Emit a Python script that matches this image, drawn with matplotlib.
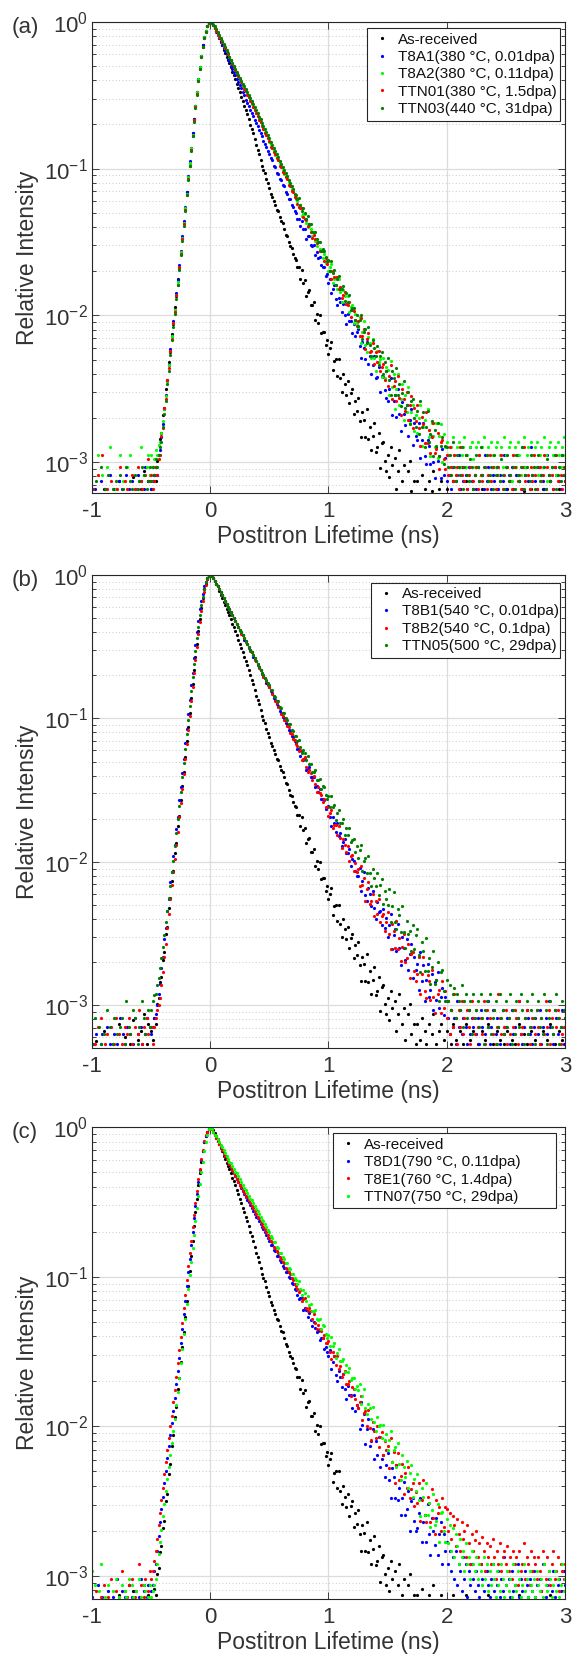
import numpy as np
import matplotlib
matplotlib.use("Agg")
import matplotlib.pyplot as plt
from matplotlib.ticker import LogLocator, NullFormatter, FixedLocator

plt.rcParams['font.family'] = ['Liberation Sans', 'DejaVu Sans']
plt.rcParams['mathtext.fontset'] = 'custom'
plt.rcParams['mathtext.rm'] = 'Liberation Sans'
plt.rcParams['axes.unicode_minus'] = False

# channel positions (ns), one value every 0.0125 ns from -1 to 3
t_ns = np.linspace(-1.0, 3.0, 321)

# log10 of relative intensity, None = no counts shown
# one line = 0.25 ns
as_received = [
    None, None, None, -3.25, None, None, None, None, -3.18, None, None, None, None, None, -3.27, None, None, None, -3.13, None,
    None, None, -3.22, None, None, None, -3.27, None, -3.10, None, None, -3.24, None, -3.18, None, -3.06, None, -3.27, -3.13, None,
    -3.18, -3.24, -3.09, -3.13, -2.99, -2.95, -2.84, -2.80, -2.68, -2.63, -2.50, -2.45, -2.32, -2.25, -2.13, -2.06, -1.94, -1.87, -1.75, -1.68,
    -1.57, -1.47, -1.37, -1.27, -1.16, -1.06, -0.96, -0.86, -0.76, -0.66, -0.57, -0.48, -0.39, -0.31, -0.23, -0.16, -0.10, -0.06, -0.03, -0.01,
    0.00, -0.01, -0.02, -0.04, -0.06, -0.08, -0.11, -0.14, -0.16, -0.19, -0.21, -0.24, -0.26, -0.28, -0.31, -0.34, -0.36, -0.39, -0.42, -0.45,
    -0.48, -0.51, -0.54, -0.57, -0.60, -0.63, -0.66, -0.70, -0.73, -0.76, -0.80, -0.84, -0.87, -0.90, -0.94, -0.98, -1.01, -1.03, -1.07, -1.10,
    -1.13, -1.17, -1.19, -1.22, -1.25, -1.28, -1.29, -1.33, -1.36, -1.37, -1.41, -1.45, -1.46, -1.50, -1.53, -1.54, -1.58, -1.61, -1.62, -1.67,
    -1.67, -1.75, -1.69, -1.78, -1.76, -1.87, -1.84, -1.83, -1.93, -1.93, -1.91, -2.03, -1.99, -2.05, -2.00, -2.12, -2.11, -2.11, -2.20, -2.17,
    -2.26, -2.22, -2.18, -2.37, -2.31, -2.30, -2.41, -2.30, -2.43, -2.52, -2.40, -2.47, -2.54, -2.45, -2.60, -2.53, -2.50, -2.67, -2.58, -2.65,
    -2.56, -2.72, -2.83, -2.66, -2.71, -2.83, -2.64, -2.84, -2.76, -2.92, -2.82, -2.73, -2.93, -2.90, -2.80, -3.04, -2.87, -2.86, -2.99, -3.06,
    -2.95, -3.10, -2.90, -3.02, None, -2.97, -3.18, -3.06, -2.92, None, -3.13, -3.02, -3.24, None, -3.06, -2.99, -3.20, None, -3.13, -3.27,
    -3.13, None, -3.24, -3.09, None, -3.18, -3.27, None, -3.13, None, -3.20, -3.06, None, -3.27, None, -3.18, -3.13, None, -3.24, None,
    -3.18, None, None, -3.27, -3.13, None, -3.24, None, None, -3.18, None, -3.27, None, -3.13, None, None, -3.24, None, -3.18, None,
    None, -3.27, None, None, -3.18, None, -3.24, None, -3.13, None, None, -3.27, None, None, -3.18, None, -3.24, None, None, -3.27,
    None, -3.18, None, None, -3.24, None, -3.27, None, None, -3.13, None, None, -3.20, None, -3.27, None, None, -3.18, None, None,
    -3.24, None, None, -3.27, None, -3.18, None, None, -3.24, None, -3.13, None, None, -3.27, None, None, -3.18, None, -3.24, None,
    -3.27,
]

# (a)
a_t8a1 = [
    None, None, -3.18, None, None, None, -3.13, None, None, -3.18, None, None, -3.09, None, None, -3.18, None, None, -3.13, None,
    -3.18, None, None, -3.09, None, -3.18, None, -3.13, None, None, -3.18, -3.09, None, -3.13, None, -3.18, -3.03, None, -3.13, -3.09,
    -3.18, -3.13, -3.09, -3.03, -3.09, -2.95, -2.92, -2.83, -2.74, -2.64, -2.54, -2.44, -2.34, -2.23, -2.14, -2.04, -1.96, -1.85, -1.76, -1.66,
    -1.56, -1.46, -1.36, -1.26, -1.16, -1.05, -0.95, -0.86, -0.76, -0.66, -0.57, -0.48, -0.39, -0.31, -0.23, -0.16, -0.10, -0.06, -0.03, -0.01,
    0.00, -0.01, -0.02, -0.04, -0.07, -0.09, -0.11, -0.13, -0.16, -0.18, -0.20, -0.22, -0.25, -0.27, -0.30, -0.32, -0.34, -0.36, -0.39, -0.41,
    -0.43, -0.45, -0.48, -0.50, -0.53, -0.55, -0.57, -0.60, -0.62, -0.64, -0.67, -0.69, -0.71, -0.74, -0.76, -0.78, -0.81, -0.83, -0.85, -0.88,
    -0.90, -0.93, -0.94, -0.98, -0.99, -1.03, -1.04, -1.07, -1.08, -1.11, -1.12, -1.16, -1.17, -1.21, -1.21, -1.25, -1.26, -1.29, -1.30, -1.34,
    -1.34, -1.39, -1.36, -1.41, -1.41, -1.48, -1.46, -1.46, -1.52, -1.53, -1.52, -1.59, -1.57, -1.61, -1.60, -1.66, -1.67, -1.67, -1.73, -1.72,
    -1.78, -1.75, -1.85, -1.82, -1.79, -1.89, -1.93, -1.88, -1.91, -1.98, -1.92, -2.00, -2.06, -1.99, -2.04, -2.04, -2.12, -2.06, -2.14, -2.11,
    -2.09, -2.21, -2.29, -2.18, -2.22, -2.30, -2.18, -2.33, -2.28, -2.40, -2.34, -2.28, -2.43, -2.42, -2.35, -2.52, -2.41, -2.42, -2.51, -2.56,
    -2.58, -2.50, -2.43, -2.68, -2.58, -2.54, -2.69, -2.50, -2.67, -2.79, -2.59, -2.67, -2.75, -2.61, -2.82, -2.71, -2.64, -2.88, -2.73, -2.82,
    -2.85, -2.73, -2.97, -2.85, -2.73, -2.96, -3.01, -2.85, -2.89, -3.01, -2.82, -3.00, -3.11, -2.90, -2.99, -2.96, -3.11, -2.91, -3.09, -2.97,
    -3.13, -2.95, -3.09, -3.18, -3.03, None, -3.13, -3.09, -2.95, -3.18, -3.03, -3.13, None, -3.09, -3.18, -3.03, -2.90, -3.13, None, -3.09,
    -3.18, -3.03, -3.13, None, -3.09, -3.18, -2.95, -3.13, -3.03, None, -3.18, -3.09, -3.13, None, -3.03, -3.18, -3.09, None, -3.13, -2.95,
    -3.18, None, -3.09, -3.13, -3.03, -3.18, None, -3.09, -2.95, -3.13, None, -3.18, -3.03, -3.09, None, -3.13, -3.18, -2.90, -3.09, None,
    -3.13, -3.18, -3.03, None, -3.09, -3.13, -3.18, None, -2.95, -3.09, -3.13, None, -3.18, -3.03, -3.09, None, -3.13, -3.18, -2.95, -3.09,
    -3.13,
]
a_t8a2 = [
    -3.18, None, None, None, -2.95, None, None, -3.09, None, None, -3.03, None, -2.90, None, None, None, -3.18, None, None, -2.95,
    None, -3.13, None, None, -3.03, None, -2.95, None, None, -3.18, None, None, -3.13, -2.90, None, -3.09, None, -3.03, -2.95, -3.09,
    -2.95, -3.03, -2.98, -2.92, -2.95, -2.88, -2.86, -2.80, -2.72, -2.64, -2.55, -2.45, -2.34, -2.24, -2.14, -2.05, -1.96, -1.86, -1.77, -1.67,
    -1.57, -1.47, -1.37, -1.27, -1.17, -1.06, -0.96, -0.86, -0.77, -0.67, -0.57, -0.48, -0.39, -0.31, -0.23, -0.17, -0.10, -0.06, -0.03, -0.01,
    0.00, -0.01, -0.02, -0.04, -0.06, -0.08, -0.10, -0.12, -0.14, -0.16, -0.18, -0.20, -0.22, -0.24, -0.26, -0.28, -0.30, -0.33, -0.35, -0.37,
    -0.39, -0.41, -0.43, -0.45, -0.47, -0.49, -0.51, -0.53, -0.56, -0.58, -0.60, -0.62, -0.64, -0.66, -0.68, -0.70, -0.72, -0.75, -0.77, -0.79,
    -0.82, -0.83, -0.86, -0.87, -0.91, -0.92, -0.94, -0.96, -0.98, -1.01, -1.04, -1.05, -1.06, -1.09, -1.11, -1.14, -1.15, -1.18, -1.21, -1.22,
    -1.26, -1.25, -1.32, -1.31, -1.31, -1.37, -1.40, -1.39, -1.41, -1.46, -1.43, -1.49, -1.53, -1.50, -1.55, -1.56, -1.61, -1.58, -1.64, -1.63,
    -1.70, -1.67, -1.65, -1.78, -1.75, -1.74, -1.82, -1.75, -1.84, -1.91, -1.83, -1.87, -1.92, -1.87, -1.98, -1.94, -1.93, -2.05, -1.99, -2.05,
    -2.08, -2.01, -2.19, -2.11, -2.04, -2.20, -2.25, -2.15, -2.19, -2.29, -2.16, -2.29, -2.38, -2.24, -2.32, -2.30, -2.42, -2.29, -2.43, -2.35,
    -2.37, -2.54, -2.31, -2.49, -2.40, -2.64, -2.50, -2.40, -2.61, -2.57, -2.47, -2.71, -2.54, -2.66, -2.49, -2.73, -2.66, -2.61, -2.79, -2.68,
    -2.80, -2.70, -2.61, -2.89, -2.76, -2.71, -2.87, -2.64, -2.83, -2.96, -2.73, -2.82, -2.90, -2.73, -2.97, -2.82, -2.74, -3.00, -2.81, -2.90,
    -2.86, -2.95, -3.03, -2.90, -2.83, -2.95, -3.09, -2.90, -2.86, -3.03, -2.95, -2.90, -2.83, -3.03, -2.95, -3.13, -2.90, -2.86, -2.98, -3.03,
    -2.90, -2.86, -2.95, -3.09, -2.90, -2.83, -3.03, -2.95, -2.90, -3.13, -2.86, -2.95, -3.03, -2.90, -2.86, -3.09, -2.95, -2.90, -3.03, -2.83,
    -2.95, -3.03, -2.90, -2.86, -3.13, -2.95, -2.90, -3.03, -2.86, -2.95, -3.09, -2.90, -2.83, -3.03, -2.95, -2.90, -3.18, -2.86, -2.95, -3.03,
    -2.90, -2.86, -3.09, -2.95, -2.90, -3.03, -2.83, -2.95, -3.13, -2.90, -2.86, -3.03, -2.95, -2.90, -3.09, -2.86, -2.95, -3.03, -2.90, -2.83,
    -2.95,
]
a_ttn01 = [
    None, -3.18, None, None, -3.09, None, None, -2.95, None, None, -3.18, None, None, -3.13, None, None, None, -3.18, None, -3.03,
    None, None, -3.13, None, -3.18, None, None, -3.09, None, -3.18, None, -3.03, None, -3.13, -3.18, None, -3.09, None, -2.98, -3.13,
    -3.09, -3.18, -3.13, -3.03, -3.09, -2.98, -2.95, -2.82, -2.77, -2.63, -2.57, -2.44, -2.36, -2.24, -2.16, -2.05, -1.98, -1.86, -1.79, -1.67,
    -1.58, -1.48, -1.38, -1.28, -1.18, -1.07, -0.98, -0.87, -0.78, -0.67, -0.58, -0.49, -0.40, -0.32, -0.24, -0.17, -0.11, -0.07, -0.03, -0.01,
    0.00, -0.01, -0.02, -0.04, -0.06, -0.08, -0.10, -0.12, -0.14, -0.16, -0.18, -0.20, -0.22, -0.24, -0.26, -0.29, -0.31, -0.33, -0.35, -0.37,
    -0.39, -0.41, -0.43, -0.46, -0.47, -0.50, -0.51, -0.54, -0.55, -0.58, -0.60, -0.62, -0.64, -0.67, -0.68, -0.71, -0.73, -0.76, -0.77, -0.79,
    -0.81, -0.85, -0.86, -0.89, -0.90, -0.93, -0.94, -0.98, -0.99, -1.02, -1.03, -1.06, -1.07, -1.11, -1.12, -1.15, -1.16, -1.19, -1.20, -1.24,
    -1.26, -1.27, -1.27, -1.33, -1.34, -1.35, -1.39, -1.38, -1.43, -1.47, -1.45, -1.48, -1.51, -1.50, -1.56, -1.56, -1.56, -1.63, -1.61, -1.65,
    -1.63, -1.70, -1.75, -1.70, -1.74, -1.79, -1.74, -1.82, -1.81, -1.88, -1.86, -1.84, -1.92, -1.93, -1.91, -2.01, -1.96, -1.97, -2.03, -2.07,
    -2.04, -2.14, -2.02, -2.14, -2.09, -2.23, -2.16, -2.12, -2.25, -2.24, -2.19, -2.33, -2.25, -2.32, -2.24, -2.38, -2.35, -2.33, -2.44, -2.38,
    -2.48, -2.41, -2.34, -2.57, -2.48, -2.45, -2.58, -2.41, -2.56, -2.68, -2.50, -2.57, -2.65, -2.52, -2.71, -2.61, -2.55, -2.77, -2.63, -2.72,
    -2.61, -2.77, -2.89, -2.69, -2.74, -2.87, -2.66, -2.87, -2.78, -2.94, -2.83, -2.73, -2.94, -2.91, -2.80, -3.05, -2.86, -2.85, -2.98, -3.05,
    -2.95, -3.09, -2.90, -3.03, -3.13, -2.95, -3.09, -3.03, -3.18, -2.90, -3.09, -3.03, -3.13, -2.95, -3.18, -3.09, -3.03, None, -3.13, -3.09,
    -3.03, -3.18, -2.95, -3.09, -3.13, None, -3.03, -3.18, -3.09, -2.95, -3.13, -3.03, None, -3.18, -3.09, -3.03, -3.13, -2.95, -3.18, -3.09,
    None, -3.03, -3.13, -3.09, -3.18, -2.95, -3.03, None, -3.13, -3.09, -3.18, -3.03, -2.90, -3.13, None, -3.09, -3.18, -3.03, -3.13, -2.95,
    -3.09, -3.18, None, -3.03, -3.13, -3.09, -2.95, -3.18, -3.03, None, -3.13, -3.09, -3.18, -3.03, -2.95, -3.13, None, -3.09, -3.18, -3.03,
    -3.13,
]
a_ttn03 = [
    -3.18, None, None, -3.13, None, None, -3.03, None, None, -3.18, None, -3.09, None, None, -3.18, None, -3.13, None, None, -3.09,
    None, -3.18, None, -3.03, None, None, -3.13, -3.18, None, -3.09, None, -3.18, -3.13, None, -3.03, -3.09, None, -3.18, -3.13, -3.03,
    -3.13, -3.03, -3.09, -2.98, -3.03, -2.95, -2.90, -2.86, -2.76, -2.67, -2.58, -2.47, -2.38, -2.27, -2.17, -2.08, -1.99, -1.89, -1.79, -1.69,
    -1.59, -1.49, -1.39, -1.29, -1.18, -1.08, -0.98, -0.88, -0.78, -0.68, -0.59, -0.50, -0.40, -0.32, -0.24, -0.17, -0.11, -0.07, -0.03, -0.01,
    0.00, -0.01, -0.02, -0.03, -0.05, -0.07, -0.09, -0.11, -0.13, -0.15, -0.17, -0.19, -0.21, -0.24, -0.26, -0.28, -0.30, -0.32, -0.34, -0.36,
    -0.38, -0.40, -0.42, -0.44, -0.46, -0.48, -0.50, -0.52, -0.54, -0.56, -0.58, -0.60, -0.62, -0.65, -0.66, -0.69, -0.71, -0.73, -0.75, -0.77,
    -0.79, -0.82, -0.84, -0.86, -0.88, -0.90, -0.92, -0.95, -0.97, -0.99, -1.01, -1.03, -1.05, -1.08, -1.10, -1.12, -1.14, -1.17, -1.18, -1.21,
    -1.20, -1.25, -1.29, -1.27, -1.30, -1.34, -1.32, -1.38, -1.38, -1.43, -1.43, -1.43, -1.48, -1.50, -1.50, -1.56, -1.55, -1.56, -1.60, -1.63,
    -1.62, -1.70, -1.63, -1.71, -1.69, -1.79, -1.75, -1.73, -1.82, -1.82, -1.80, -1.90, -1.85, -1.91, -1.86, -1.96, -1.95, -1.95, -2.03, -2.00,
    -2.07, -2.03, -2.00, -2.16, -2.11, -2.09, -2.19, -2.08, -2.20, -2.28, -2.17, -2.22, -2.28, -2.21, -2.34, -2.28, -2.25, -2.40, -2.32, -2.38,
    -2.29, -2.44, -2.54, -2.38, -2.43, -2.54, -2.36, -2.54, -2.47, -2.62, -2.53, -2.45, -2.63, -2.61, -2.52, -2.74, -2.58, -2.57, -2.70, -2.76,
    -2.65, -2.81, -2.58, -2.76, -2.66, -2.90, -2.76, -2.65, -2.86, -2.81, -2.72, -2.96, -2.78, -2.89, -2.73, -2.96, -2.89, -2.83, -3.01, -2.89,
    -2.90, -3.03, -2.95, -3.09, -2.86, -3.03, -3.13, -2.95, -3.03, -3.09, -2.90, -3.18, -3.03, -2.95, -3.09, -3.13, -2.98, -3.03, -3.18, -3.09,
    -2.95, -3.03, -3.13, -2.90, -3.09, -3.03, None, -2.95, -3.13, -3.09, -3.03, -3.18, -2.95, -3.09, -3.03, None, -3.13, -2.98, -3.09, -3.18,
    -3.03, -2.95, -3.13, -3.09, None, -3.03, -3.18, -2.95, -3.09, -3.13, -3.03, -2.90, -3.18, -3.09, -3.03, None, -3.13, -2.95, -3.09, -3.03,
    -3.18, -3.03, -2.95, -3.13, -3.09, None, -3.03, -3.18, -2.98, -3.09, -3.13, -3.03, None, -2.95, -3.18, -3.09, -3.03, -3.13, -2.95, -3.09,
    -3.03,
]

# (b)
b_t8b1 = [
    None, -3.27, None, -3.20, None, None, -3.27, -3.20, None, None, -3.15, None, -3.27, None, None, -3.20, None, -3.27, None, -3.09,
    None, -3.20, -3.27, None, -3.15, None, -3.20, None, -3.27, -3.09, None, -3.20, None, -3.15, -3.27, None, -3.20, -3.09, None, -3.15,
    -3.20, -3.15, -3.09, -3.06, -3.00, -2.92, -2.85, -2.74, -2.66, -2.54, -2.46, -2.34, -2.26, -2.14, -2.07, -1.96, -1.88, -1.77, -1.69, -1.57,
    -1.48, -1.38, -1.28, -1.17, -1.07, -0.97, -0.87, -0.77, -0.68, -0.58, -0.49, -0.40, -0.32, -0.24, -0.18, -0.13, -0.08, -0.05, -0.02, -0.01,
    0.00, -0.01, -0.02, -0.04, -0.06, -0.08, -0.10, -0.12, -0.14, -0.16, -0.18, -0.20, -0.22, -0.24, -0.26, -0.28, -0.30, -0.32, -0.34, -0.36,
    -0.38, -0.40, -0.42, -0.45, -0.46, -0.48, -0.51, -0.52, -0.54, -0.57, -0.58, -0.60, -0.63, -0.64, -0.66, -0.69, -0.70, -0.72, -0.75, -0.76,
    -0.78, -0.81, -0.82, -0.86, -0.87, -0.90, -0.91, -0.95, -0.96, -0.99, -1.00, -1.03, -1.04, -1.08, -1.09, -1.12, -1.13, -1.16, -1.17, -1.21,
    -1.21, -1.26, -1.23, -1.29, -1.28, -1.36, -1.35, -1.34, -1.41, -1.41, -1.41, -1.48, -1.47, -1.51, -1.49, -1.56, -1.56, -1.57, -1.63, -1.62,
    -1.61, -1.69, -1.75, -1.69, -1.73, -1.79, -1.73, -1.82, -1.80, -1.89, -1.86, -1.84, -1.94, -1.94, -1.91, -2.03, -1.98, -1.99, -2.06, -2.10,
    -2.10, -2.04, -2.20, -2.13, -2.07, -2.23, -2.27, -2.18, -2.22, -2.31, -2.20, -2.32, -2.40, -2.28, -2.35, -2.34, -2.44, -2.33, -2.46, -2.39,
    -2.52, -2.44, -2.36, -2.61, -2.51, -2.47, -2.62, -2.43, -2.60, -2.72, -2.52, -2.60, -2.68, -2.54, -2.75, -2.64, -2.57, -2.81, -2.66, -2.75,
    -2.71, -2.89, -2.63, -2.83, -2.72, -2.97, -2.82, -2.71, -2.94, -2.89, -2.78, -3.03, -2.84, -2.96, -2.77, -3.02, -2.94, -2.88, -3.07, -2.94,
    -2.97, -3.09, -3.20, -3.03, -3.15, -3.09, -3.27, -2.97, -3.15, -3.03, -3.20, -3.09, None, -3.15, -3.27, -3.03, -3.20, -3.09, -3.15, None,
    -3.20, -3.09, -3.27, -3.03, -3.15, None, -3.20, -3.09, -2.97, -3.27, -3.15, -3.03, None, -3.20, -3.09, -3.15, -3.27, None, -3.03, -3.20,
    -3.15, -3.09, None, -3.27, -3.03, -3.20, -3.15, None, -3.09, -2.97, -3.20, -3.27, -3.15, None, -3.03, -3.09, -3.20, None, -3.27, -3.15,
    -3.09, None, -3.20, -3.03, -3.27, -3.15, None, -3.09, -3.20, -2.97, -3.15, None, -3.27, -3.03, -3.09, -3.20, None, -3.15, -3.03, -3.27,
    -3.09,
]
b_t8b2 = [
    None, None, -3.27, None, -3.15, None, -3.09, None, None, -3.27, -3.20, None, None, -3.15, None, -3.27, -3.09, None, -3.20, None,
    -3.27, None, -3.15, None, -3.20, -3.09, None, -3.27, None, -3.15, None, -3.20, -3.03, None, -3.27, -3.15, None, -3.09, -3.20, None,
    -3.15, -3.27, -3.15, -3.09, -3.03, -3.00, -2.95, -2.86, -2.77, -2.66, -2.57, -2.46, -2.36, -2.26, -2.16, -2.07, -1.98, -1.88, -1.79, -1.69,
    -1.59, -1.49, -1.39, -1.28, -1.18, -1.08, -0.98, -0.88, -0.78, -0.68, -0.59, -0.50, -0.41, -0.33, -0.25, -0.18, -0.12, -0.07, -0.03, -0.01,
    0.00, -0.01, -0.02, -0.04, -0.06, -0.08, -0.10, -0.12, -0.14, -0.16, -0.18, -0.20, -0.22, -0.24, -0.26, -0.28, -0.30, -0.32, -0.34, -0.36,
    -0.38, -0.41, -0.42, -0.44, -0.47, -0.48, -0.50, -0.53, -0.54, -0.56, -0.59, -0.60, -0.62, -0.65, -0.66, -0.68, -0.71, -0.72, -0.74, -0.77,
    -0.78, -0.80, -0.83, -0.84, -0.88, -0.89, -0.92, -0.93, -0.97, -0.98, -1.01, -1.02, -1.05, -1.06, -1.10, -1.11, -1.14, -1.15, -1.18, -1.19,
    -1.23, -1.22, -1.29, -1.28, -1.27, -1.34, -1.37, -1.36, -1.38, -1.43, -1.40, -1.46, -1.51, -1.48, -1.52, -1.53, -1.58, -1.56, -1.62, -1.62,
    -1.68, -1.66, -1.64, -1.76, -1.74, -1.74, -1.81, -1.75, -1.83, -1.90, -1.84, -1.88, -1.93, -1.89, -1.99, -1.96, -1.95, -2.06, -2.01, -2.07,
    -2.05, -2.17, -2.03, -2.16, -2.11, -2.27, -2.19, -2.14, -2.29, -2.27, -2.22, -2.38, -2.27, -2.36, -2.26, -2.42, -2.38, -2.36, -2.48, -2.42,
    -2.35, -2.50, -2.61, -2.43, -2.48, -2.60, -2.41, -2.61, -2.53, -2.69, -2.59, -2.50, -2.70, -2.67, -2.57, -2.81, -2.64, -2.63, -2.76, -2.83,
    -2.78, -2.66, -2.92, -2.78, -2.66, -2.90, -2.95, -2.79, -2.83, -2.96, -2.75, -2.94, -3.05, -2.82, -2.92, -2.89, -3.05, -2.83, -3.02, -2.90,
    -3.09, -2.97, -3.20, -3.03, -3.15, -2.92, -3.09, -3.27, -3.03, -3.15, -2.97, -3.20, -3.09, None, -3.03, -3.15, -3.27, -2.97, -3.09, -3.20,
    -3.03, -3.15, None, -3.09, -3.20, -2.97, -3.27, -3.03, -3.15, -3.09, None, -3.20, -3.03, -3.27, -3.15, -2.92, -3.09, -3.20, None, -3.15,
    -3.03, -3.27, -3.09, -3.20, None, -3.15, -3.03, -3.09, -3.27, -2.97, -3.20, -3.15, None, -3.09, -3.03, -3.20, -3.27, -3.15, -3.09, None,
    -3.20, -3.03, -3.15, -3.27, -3.09, None, -3.20, -2.97, -3.15, -3.03, -3.27, -3.09, -3.20, None, -3.15, -3.03, -3.09, -3.27, -3.20, -3.15,
    -3.03,
]
b_ttn05 = [
    -3.27, None, -3.09, None, None, -3.15, -3.27, None, -3.20, None, -3.03, None, -3.15, None, -3.27, -3.09, None, -3.20, None, -3.15,
    -3.09, None, -3.27, -2.97, None, -3.15, -3.20, None, -3.03, -3.09, None, -3.27, -3.15, None, -2.97, -3.09, -3.20, None, -3.03, -3.15,
    -3.03, -2.97, -2.93, -2.92, -2.86, -2.81, -2.74, -2.67, -2.59, -2.51, -2.42, -2.34, -2.25, -2.17, -2.07, -1.99, -1.89, -1.80, -1.70, -1.61,
    -1.51, -1.41, -1.31, -1.21, -1.11, -1.01, -0.91, -0.81, -0.71, -0.62, -0.53, -0.44, -0.36, -0.28, -0.21, -0.15, -0.10, -0.05, -0.02, -0.01,
    0.00, -0.01, -0.02, -0.04, -0.06, -0.08, -0.10, -0.12, -0.14, -0.16, -0.18, -0.20, -0.22, -0.24, -0.26, -0.28, -0.30, -0.32, -0.34, -0.36,
    -0.38, -0.40, -0.42, -0.44, -0.46, -0.48, -0.50, -0.52, -0.54, -0.56, -0.58, -0.60, -0.62, -0.64, -0.66, -0.68, -0.70, -0.72, -0.73, -0.75,
    -0.77, -0.80, -0.80, -0.84, -0.85, -0.88, -0.88, -0.92, -0.93, -0.96, -0.96, -1.00, -1.01, -1.04, -1.04, -1.08, -1.09, -1.12, -1.12, -1.16,
    -1.15, -1.20, -1.24, -1.22, -1.24, -1.29, -1.26, -1.32, -1.32, -1.37, -1.37, -1.36, -1.43, -1.43, -1.42, -1.49, -1.47, -1.48, -1.53, -1.56,
    -1.54, -1.62, -1.54, -1.62, -1.60, -1.71, -1.66, -1.64, -1.73, -1.73, -1.70, -1.81, -1.76, -1.81, -1.76, -1.86, -1.85, -1.84, -1.93, -1.89,
    -1.97, -1.92, -1.88, -2.06, -1.99, -1.97, -2.08, -1.96, -2.08, -2.17, -2.05, -2.11, -2.17, -2.08, -2.23, -2.16, -2.12, -2.29, -2.20, -2.26,
    -2.30, -2.19, -2.42, -2.31, -2.21, -2.42, -2.47, -2.33, -2.37, -2.49, -2.31, -2.49, -2.60, -2.41, -2.50, -2.48, -2.62, -2.44, -2.61, -2.51,
    -2.47, -2.65, -2.77, -2.56, -2.62, -2.76, -2.53, -2.76, -2.67, -2.85, -2.73, -2.62, -2.85, -2.82, -2.70, -2.97, -2.77, -2.75, -2.90, -2.97,
    -2.82, -2.97, -2.86, -3.03, -2.92, -2.88, -3.09, -2.92, -2.97, -3.03, -2.86, -3.15, -2.97, -2.92, -3.09, -3.03, -2.97, -3.20, -2.92, -3.09,
    -3.03, -2.97, -3.15, -2.92, -3.09, -3.27, -3.03, -2.97, -3.15, -2.92, -3.20, -3.09, -3.03, -2.97, -3.27, -3.15, -2.92, -3.09, -3.03, -3.20,
    -2.97, -3.15, -3.09, -2.92, -3.27, -3.03, -3.20, -2.97, -3.09, -3.15, -2.92, -3.03, -3.27, -3.09, -2.97, -3.20, -3.15, -3.03, -2.92, -3.09,
    -3.27, -3.03, -2.97, -3.15, -3.09, -3.20, -2.92, -3.03, -3.27, -3.09, -2.97, -3.15, -3.20, -3.03, -2.92, -3.09, -3.27, -3.15, -2.97, -3.03,
    -3.09,
]

# (c)
c_t8d1 = [
    -3.14, None, None, None, -3.06, None, None, -3.14, None, None, None, -3.10, None, None, -3.14, None, None, -3.02, None, None,
    -3.10, None, -3.14, None, None, -3.06, None, -3.14, None, -3.10, None, None, -3.14, -3.02, None, -3.10, None, -3.14, -3.06, None,
    -3.10, -3.06, -2.97, -2.92, -2.83, -2.73, -2.64, -2.55, -2.47, -2.38, -2.30, -2.21, -2.13, -2.06, -1.98, -1.90, -1.81, -1.72, -1.63, -1.54,
    -1.44, -1.35, -1.25, -1.16, -1.06, -0.97, -0.88, -0.79, -0.70, -0.61, -0.53, -0.45, -0.37, -0.29, -0.22, -0.16, -0.10, -0.06, -0.03, -0.01,
    0.00, -0.01, -0.03, -0.05, -0.07, -0.09, -0.11, -0.13, -0.15, -0.17, -0.19, -0.21, -0.23, -0.25, -0.27, -0.29, -0.31, -0.33, -0.35, -0.37,
    -0.39, -0.41, -0.43, -0.45, -0.47, -0.49, -0.50, -0.52, -0.54, -0.56, -0.58, -0.60, -0.61, -0.63, -0.65, -0.67, -0.68, -0.70, -0.72, -0.74,
    -0.76, -0.79, -0.79, -0.82, -0.83, -0.86, -0.86, -0.89, -0.90, -0.93, -0.94, -0.97, -0.97, -1.00, -1.01, -1.04, -1.05, -1.08, -1.09, -1.12,
    -1.15, -1.14, -1.14, -1.22, -1.21, -1.22, -1.27, -1.24, -1.29, -1.33, -1.30, -1.34, -1.37, -1.36, -1.42, -1.41, -1.41, -1.48, -1.47, -1.50,
    -1.53, -1.49, -1.62, -1.57, -1.53, -1.66, -1.70, -1.63, -1.67, -1.74, -1.65, -1.75, -1.82, -1.73, -1.79, -1.79, -1.88, -1.79, -1.90, -1.86,
    -1.88, -2.02, -1.84, -1.99, -1.92, -2.12, -2.02, -1.95, -2.13, -2.10, -2.02, -2.22, -2.10, -2.19, -2.07, -2.27, -2.22, -2.19, -2.34, -2.26,
    -2.18, -2.36, -2.48, -2.28, -2.34, -2.48, -2.26, -2.49, -2.41, -2.59, -2.48, -2.37, -2.59, -2.55, -2.43, -2.70, -2.50, -2.48, -2.63, -2.70,
    -2.68, -2.58, -2.48, -2.77, -2.64, -2.59, -2.77, -2.52, -2.72, -2.86, -2.61, -2.70, -2.79, -2.61, -2.86, -2.72, -2.64, -2.92, -2.72, -2.83,
    -2.77, -2.92, -2.83, -2.97, -2.87, -3.02, -2.83, -3.06, -2.92, -2.97, -3.10, -2.87, -3.02, -2.92, -3.14, -2.97, -3.06, -2.92, -3.02, -3.10,
    -2.97, -3.06, -3.14, -2.92, -3.02, -3.10, None, -2.97, -3.06, -3.14, -3.02, -2.92, -3.10, None, -3.06, -2.97, -3.14, -3.02, -3.10, -2.87,
    -3.06, None, -3.02, -3.14, -2.97, -3.10, -3.06, None, -2.92, -3.14, -3.02, -3.10, None, -2.97, -3.06, -3.14, -3.02, None, -3.10, -2.97,
    -3.14, -3.06, None, -3.02, -3.10, -2.92, None, -3.14, -3.06, -3.02, None, -3.10, -2.97, -3.14, None, -3.06, -3.02, -3.10, None, -2.97,
    -3.06,
]
c_t8e1 = [
    None, None, None, -3.10, None, None, -3.14, None, -3.06, None, None, -3.14, None, -3.02, None, None, -3.10, None, -3.14, None,
    -2.97, None, -3.10, None, -3.14, -3.06, None, -3.02, None, -3.14, -3.10, None, -2.92, -3.06, None, -3.14, -3.02, None, -3.10, -2.97,
    -3.02, -2.97, -2.90, -2.83, -2.75, -2.66, -2.58, -2.49, -2.41, -2.32, -2.24, -2.16, -2.08, -2.00, -1.93, -1.84, -1.76, -1.67, -1.58, -1.49,
    -1.40, -1.31, -1.21, -1.12, -1.02, -0.93, -0.84, -0.76, -0.67, -0.59, -0.51, -0.43, -0.35, -0.28, -0.21, -0.15, -0.09, -0.05, -0.03, -0.01,
    0.00, -0.01, -0.03, -0.05, -0.07, -0.09, -0.11, -0.13, -0.15, -0.17, -0.19, -0.21, -0.23, -0.25, -0.27, -0.29, -0.31, -0.33, -0.35, -0.37,
    -0.39, -0.40, -0.42, -0.44, -0.46, -0.47, -0.49, -0.51, -0.53, -0.54, -0.56, -0.58, -0.60, -0.61, -0.63, -0.65, -0.67, -0.68, -0.70, -0.72,
    -0.74, -0.76, -0.77, -0.80, -0.81, -0.83, -0.84, -0.87, -0.88, -0.90, -0.91, -0.94, -0.95, -0.97, -0.98, -1.01, -1.02, -1.05, -1.06, -1.08,
    -1.10, -1.09, -1.16, -1.15, -1.14, -1.21, -1.23, -1.21, -1.23, -1.28, -1.25, -1.31, -1.35, -1.32, -1.35, -1.36, -1.41, -1.39, -1.44, -1.44,
    -1.43, -1.50, -1.55, -1.50, -1.53, -1.59, -1.53, -1.62, -1.60, -1.67, -1.65, -1.63, -1.72, -1.72, -1.70, -1.80, -1.74, -1.75, -1.82, -1.86,
    -1.88, -1.84, -1.80, -1.96, -1.91, -1.90, -2.00, -1.89, -2.01, -2.09, -1.97, -2.03, -2.08, -2.00, -2.14, -2.07, -2.04, -2.19, -2.10, -2.16,
    -2.13, -2.28, -2.08, -2.24, -2.17, -2.38, -2.26, -2.18, -2.36, -2.33, -2.25, -2.45, -2.31, -2.41, -2.27, -2.48, -2.42, -2.38, -2.53, -2.44,
    -2.51, -2.38, -2.63, -2.49, -2.36, -2.59, -2.64, -2.47, -2.51, -2.64, -2.42, -2.61, -2.72, -2.49, -2.58, -2.54, -2.70, -2.48, -2.67, -2.54,
    -2.55, -2.70, -2.58, -2.75, -2.60, -2.66, -2.80, -2.62, -2.72, -2.83, -2.64, -2.75, -2.70, -2.87, -2.66, -2.78, -2.92, -2.72, -2.83, -2.76,
    -2.70, -2.87, -2.78, -2.92, -2.74, -2.83, -2.97, -2.78, -2.87, -2.80, -2.92, -2.75, -2.87, -3.02, -2.83, -2.92, -2.78, -2.97, -2.87, -2.83,
    -2.92, -2.80, -2.97, -2.87, -3.02, -2.83, -2.92, -2.87, -3.06, -2.83, -2.97, -2.92, -2.78, -3.02, -2.87, -2.92, -3.06, -2.83, -2.97, -2.87,
    -2.92, -3.02, -2.87, -2.97, -3.10, -2.83, -2.92, -3.02, -2.87, -2.97, -3.06, -2.92, -2.83, -3.02, -2.97, -2.87, -3.10, -2.92, -2.97, -3.02,
    -2.92,
]
c_ttn07 = [
    -2.97, None, -3.06, None, None, -3.10, -2.92, None, None, -3.14, None, -3.06, None, None, -3.10, None, -3.02, None, -3.14, None,
    -3.06, None, -3.10, -3.14, None, -3.02, None, -3.06, -3.14, None, -3.10, None, -3.02, -3.14, None, -3.06, -3.10, None, -3.14, -3.06,
    -3.14, -3.10, -3.06, -3.02, -2.92, -2.85, -2.77, -2.69, -2.60, -2.52, -2.43, -2.35, -2.27, -2.19, -2.11, -2.03, -1.95, -1.86, -1.77, -1.68,
    -1.58, -1.48, -1.38, -1.28, -1.18, -1.08, -0.99, -0.90, -0.81, -0.72, -0.63, -0.54, -0.46, -0.38, -0.30, -0.23, -0.16, -0.10, -0.05, -0.01,
    0.00, -0.01, -0.03, -0.05, -0.06, -0.08, -0.10, -0.12, -0.13, -0.15, -0.17, -0.19, -0.21, -0.23, -0.24, -0.26, -0.28, -0.30, -0.31, -0.33,
    -0.35, -0.37, -0.39, -0.41, -0.42, -0.44, -0.46, -0.48, -0.49, -0.51, -0.53, -0.55, -0.56, -0.58, -0.60, -0.62, -0.63, -0.65, -0.67, -0.69,
    -0.70, -0.73, -0.74, -0.77, -0.77, -0.80, -0.81, -0.84, -0.84, -0.87, -0.88, -0.91, -0.91, -0.94, -0.95, -0.98, -0.98, -1.01, -1.02, -1.05,
    -1.03, -1.08, -1.12, -1.09, -1.11, -1.16, -1.13, -1.19, -1.18, -1.23, -1.23, -1.22, -1.28, -1.29, -1.28, -1.35, -1.32, -1.33, -1.38, -1.41,
    -1.39, -1.46, -1.40, -1.46, -1.44, -1.54, -1.51, -1.48, -1.56, -1.56, -1.55, -1.64, -1.59, -1.64, -1.61, -1.69, -1.68, -1.68, -1.75, -1.73,
    -1.76, -1.72, -1.85, -1.80, -1.75, -1.88, -1.92, -1.85, -1.88, -1.95, -1.87, -1.97, -2.03, -1.94, -2.00, -1.99, -2.08, -1.99, -2.09, -2.05,
    -2.16, -2.09, -2.03, -2.24, -2.16, -2.14, -2.27, -2.11, -2.25, -2.36, -2.19, -2.27, -2.34, -2.23, -2.41, -2.31, -2.26, -2.47, -2.35, -2.43,
    -2.32, -2.49, -2.60, -2.41, -2.47, -2.59, -2.38, -2.59, -2.51, -2.67, -2.56, -2.45, -2.66, -2.63, -2.52, -2.77, -2.58, -2.57, -2.70, -2.77,
    -2.62, -2.78, -2.66, -2.83, -2.68, -2.87, -2.72, -2.80, -2.92, -2.75, -2.87, -2.83, -2.97, -2.78, -2.92, -2.87, -3.02, -2.83, -2.92, -2.97,
    -2.87, -3.02, -2.92, -2.97, -3.06, -2.87, -3.02, -2.92, -3.10, -2.97, -3.06, -2.92, -3.02, -3.14, -2.97, -3.06, -3.10, -2.92, -3.02, -3.14,
    -3.06, -2.97, -3.10, -3.02, -3.14, -2.92, -3.06, -3.10, -2.97, -3.02, -3.14, -3.06, -2.92, -3.10, -3.02, -3.14, -2.97, -3.06, -3.10, -3.02,
    -3.14, -2.97, -3.06, -3.10, -3.02, -3.14, -2.92, -3.06, -3.10, -2.97, -3.02, -3.14, -3.06, -2.97, -3.10, -3.02, -3.14, -3.06, -2.92, -3.10,
    -3.02,
]

panels = [
    ('(a)', -3.21,
     [as_received, a_t8a1, a_t8a2, a_ttn01, a_ttn03],
     ['As-received', 'T8A1(380 °C, 0.01dpa)', 'T8A2(380 °C, 0.11dpa)',
      'TTN01(380 °C, 1.5dpa)', 'TTN03(440 °C, 31dpa)'],
     ['#000000', '#0000ff', '#00ff00', '#ff0000', '#008000'],
     (0.581, 0.409, 0.987)),
    ('(b)', -3.297,
     [as_received, b_t8b1, b_t8b2, b_ttn05],
     ['As-received', 'T8B1(540 °C, 0.01dpa)', 'T8B2(540 °C, 0.1dpa)',
      'TTN05(500 °C, 29dpa)'],
     ['#000000', '#0000ff', '#ff0000', '#008000'],
     (0.590, 0.400, 0.984)),
    ('(c)', -3.154,
     [as_received, c_t8d1, c_t8e1, c_ttn07],
     ['As-received', 'T8D1(790 °C, 0.11dpa)', 'T8E1(760 °C, 1.4dpa)',
      'TTN07(750 °C, 29dpa)'],
     ['#000000', '#0000ff', '#ff0000', '#00ff00'],
     (0.509, 0.473, 0.987)),
]

# axes boxes in figure fractions: left, bottom, width, height
boxes = [
    [0.160, 0.7025, 0.8226, 0.2843],
    [0.160, 0.3675, 0.8226, 0.2855],
    [0.160, 0.0350, 0.8226, 0.2848],
]

text_col = '#333333'
fig = plt.figure(figsize=(5.75, 16.57), dpi=100)

for (tag, ylow, series, labels, colors, leg_box), box in zip(panels, boxes):
    ax = fig.add_axes(box)
    for vals, lab, col in zip(series, labels, colors):
        assert len(vals) == len(t_ns), (lab, len(vals))
        v = np.array(vals, dtype=float)
        ax.plot(t_ns, 10 ** v, 'o', ms=2.3, mew=0, color=col, label=lab)

    ax.set_yscale('log')
    ax.set_xlim(-1, 3)
    ax.set_ylim(10 ** ylow, 1)
    ax.xaxis.set_major_locator(FixedLocator([-1, 0, 1, 2, 3]))
    ax.yaxis.set_major_locator(LogLocator(base=10, numticks=10))
    ax.yaxis.set_minor_locator(LogLocator(base=10, subs=np.arange(2, 10), numticks=20))
    ax.yaxis.set_minor_formatter(NullFormatter())

    ax.set_axisbelow(True)
    ax.grid(True, which='major', color='#dcdcdc', lw=0.9, ls='-')
    ax.grid(True, which='minor', axis='y', color='#b8b8b8', lw=0.6, ls=(0, (1, 3)))

    ax.tick_params(which='both', direction='in', top=True, right=True,
                   colors='#262626', labelcolor=text_col, labelsize=16, width=0.6)
    ax.tick_params(which='major', length=5)
    ax.tick_params(which='minor', length=3)
    ax.tick_params(axis='x', pad=6)
    ax.tick_params(axis='y', pad=3)
    for sp in ax.spines.values():
        sp.set_color('#262626')
        sp.set_linewidth(0.8)

    ax.set_xlabel('Postitron Lifetime (ns)', fontsize=16.5, color=text_col, labelpad=2)
    ax.set_ylabel('Relative Intensity', fontsize=16.5, color=text_col)
    ax.yaxis.set_label_coords(-0.112, 0.5)
    ax.text(-0.142, 0.989, tag, transform=ax.transAxes, ha='center', va='center',
            fontsize=16, color=text_col)

    x0, w, ytop = leg_box
    leg = ax.legend(loc='upper left', bbox_to_anchor=(x0, 0.0, w, ytop), mode='expand',
                    borderaxespad=0, fontsize=11, handlelength=1.4, handletextpad=0.35,
                    borderpad=0.3, labelspacing=0.22, markerscale=1.0, fancybox=False,
                    framealpha=1)
    leg.get_frame().set_edgecolor('#262626')
    leg.get_frame().set_linewidth(0.8)
    for txt in leg.get_texts():
        txt.set_color('#111111')

fig.savefig('out.png', dpi=100)
